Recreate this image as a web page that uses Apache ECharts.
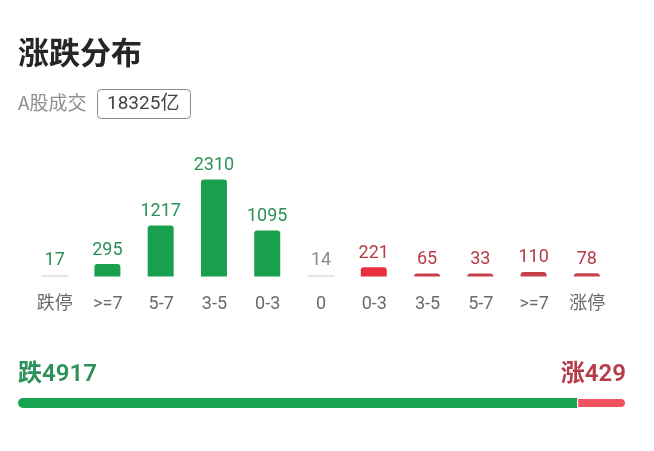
<!DOCTYPE html>
<html>
<head>
<meta charset="utf-8">
<script src="https://cdn.jsdelivr.net/npm/echarts@6/dist/echarts.min.js"></script>
<style>
  html, body { margin: 0; padding: 0; background: #fff; }
  #chart { width: 654px; height: 451px; }
</style>
</head>
<body>
<div id="chart"></div>
<script>
// 涨跌分布 data
const categories = ['跌停', '>=7', '5-7', '3-5', '0-3', '0', '0-3', '3-5', '5-7', '>=7', '涨停'];
const counts = [17, 295, 1217, 2310, 1095, 14, 221, 65, 33, 110, 78];
const sides = ['down', 'down', 'down', 'down', 'down', 'flat', 'up', 'up', 'up', 'up', 'up'];
const downTotal = 4917;
const upTotal = 429;
const turnover = '18325亿';

const FONT = 'Roboto, "Noto Sans CJK SC", sans-serif';
const GREEN = '#19a04f';
const GREEN_TEXT = '#2b9158';
const RED_BAR = '#c9404d';
const RED_TEXT = '#b63a47';
const GREY_LINE = '#c8c8c8';

const labelColor = { down: GREEN_TEXT, flat: '#8a8a8a', up: RED_TEXT };

// tiny bars (跌停 17 / 平 14) show as thin grey lines, others as normal bars
const mainData = counts.map((v, i) => {
  if (i === 0 || sides[i] === 'flat') return null;
  let color = sides[i] === 'down' ? GREEN : RED_BAR;
  if (sides[i] === 'up' && v > 200) color = '#e8303f';
  return {
    value: v,
    itemStyle: { color: color },
    label: { color: labelColor[sides[i]] }
  };
});
const thinData = counts.map((v, i) => {
  if (i === 0 || sides[i] === 'flat') {
    return { value: v, itemStyle: { color: GREY_LINE }, label: { color: labelColor[sides[i]] } };
  }
  return null;
});

const chart = echarts.init(document.getElementById('chart'), null, { renderer: 'canvas' });

chart.setOption({
  animation: false,
  backgroundColor: '#fff',
  grid: [
    { left: 28, right: 40, top: 140, bottom: 174.5 },
    { left: 18, right: 28, top: 398, height: 10 }
  ],
  xAxis: [
    {
      type: 'category',
      gridIndex: 0,
      data: categories,
      axisLine: { show: false },
      axisTick: { show: false },
      axisLabel: {
        interval: 0,
        margin: 19,
        fontSize: 18,
        fontFamily: FONT,
        color: '#6b6b6b'
      }
    },
    {
      type: 'value',
      gridIndex: 1,
      min: 0,
      max: downTotal + upTotal,
      show: false
    }
  ],
  yAxis: [
    {
      type: 'value',
      gridIndex: 0,
      min: 0,
      max: 3250,
      show: false
    },
    {
      type: 'category',
      gridIndex: 1,
      data: [''],
      show: false
    }
  ],
  series: [
    {
      type: 'bar',
      xAxisIndex: 0,
      yAxisIndex: 0,
      data: mainData,
      barWidth: 26,
      barMinHeight: 3,
      itemStyle: { borderRadius: [3, 3, 0, 0] },
      label: {
        show: true,
        position: 'top',
        distance: 5,
        fontSize: 18,
        fontFamily: FONT
      }
    },
    {
      type: 'bar',
      xAxisIndex: 0,
      yAxisIndex: 0,
      data: thinData,
      barWidth: 27,
      barGap: '-100%',
      barMinHeight: 1,
      label: {
        show: true,
        position: 'top',
        distance: 6,
        fontSize: 18,
        fontFamily: FONT
      }
    },
    {
      type: 'bar',
      xAxisIndex: 1,
      yAxisIndex: 1,
      stack: 'total',
      barWidth: 10,
      data: [downTotal],
      itemStyle: { color: '#17a34f', borderRadius: [5, 0, 0, 5] }
    },
    {
      type: 'bar',
      xAxisIndex: 1,
      yAxisIndex: 1,
      stack: 'total',
      barWidth: 10,
      data: [upTotal],
      itemStyle: { color: '#f0525f', borderRadius: [0, 5, 5, 0], borderColor: '#fff', borderWidth: 1 }
    }
  ],
  graphic: [
    {
      type: 'text',
      left: 18,
      top: 37,
      style: { text: '涨跌分布', font: 'bold 31px "Noto Sans CJK SC", sans-serif', fill: '#262626' }
    },
    {
      type: 'text',
      left: 18,
      top: 93,
      style: { text: 'A股成交', font: '19px "Noto Sans CJK SC", sans-serif', fill: '#8f8f8f' }
    },
    {
      type: 'rect',
      left: 97,
      top: 89,
      shape: { width: 93, height: 29, r: 4 },
      style: { fill: '#fff', stroke: '#8a8a8a', lineWidth: 1 }
    },
    {
      type: 'text',
      left: 107,
      top: 95,
      style: { text: turnover, font: '19px Roboto, "Noto Sans CJK SC", sans-serif', fill: '#444' }
    },
    {
      type: 'text',
      left: 18,
      top: 363,
      style: { text: '跌' + downTotal, font: '600 24px Roboto, "Noto Sans CJK SC", sans-serif', fill: GREEN_TEXT }
    },
    {
      type: 'text',
      right: 28,
      top: 363,
      style: { text: '涨' + upTotal, font: '600 24px Roboto, "Noto Sans CJK SC", sans-serif', fill: RED_TEXT }
    }
  ]
});
</script>
</body>
</html>
